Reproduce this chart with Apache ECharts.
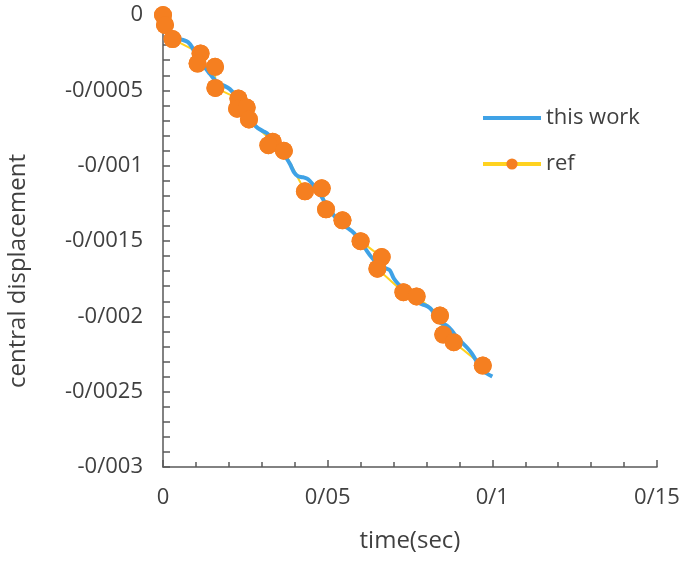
<!DOCTYPE html>
<html>
<head>
<meta charset="utf-8">
<script src="https://cdn.jsdelivr.net/npm/echarts@6/dist/echarts.min.js"></script>
<style>
  html, body { margin: 0; padding: 0; background: #ffffff; }
  #chart { width: 683px; height: 561px; }
</style>
</head>
<body>
<div id="chart"></div>
<script>
// Simulated central displacement (this work): time in seconds, displacement
const thisWorkTime = [
  0, 0.0009, 0.0021, 0.0033, 0.0046, 0.0061, 0.0076, 0.0088, 0.0100, 0.0112,
  0.0128, 0.0143, 0.0158, 0.0173, 0.0188, 0.0203, 0.0216, 0.0228, 0.0243, 0.0258,
  0.0273, 0.0288, 0.0304, 0.0316, 0.0328, 0.0343, 0.0358, 0.0373, 0.0386, 0.0398,
  0.0410, 0.0425, 0.0440, 0.0455, 0.0471, 0.0486, 0.0501, 0.0516, 0.0531, 0.0546,
  0.0562, 0.0574, 0.0586, 0.0601, 0.0616, 0.0631, 0.0647, 0.0662, 0.0677, 0.0689,
  0.0701, 0.0713, 0.0729, 0.0744, 0.0759, 0.0774, 0.0789, 0.0804, 0.0817, 0.0832,
  0.0847, 0.0862, 0.0877, 0.0893, 0.0908, 0.0923, 0.0938, 0.0953, 0.0968, 0.0984,
  0.1000
];
const thisWorkDisp = [
  0, -0.0000465, -0.0000997, -0.000146, -0.000160, -0.000166, -0.000180, -0.000213, -0.000266, -0.000312,
  -0.000352, -0.000392, -0.000432, -0.000459, -0.000472, -0.000492, -0.000525, -0.000572, -0.000625, -0.000678,
  -0.000718, -0.000751, -0.000771, -0.000785, -0.000811, -0.000851, -0.000898, -0.000944, -0.000991, -0.001044,
  -0.001070, -0.001077, -0.001090, -0.001124, -0.001170, -0.001223, -0.001277, -0.001323, -0.001363, -0.001396,
  -0.001416, -0.001436, -0.001463, -0.001509, -0.001556, -0.001602, -0.001642, -0.001669, -0.001682, -0.001695,
  -0.001749, -0.001782, -0.001815, -0.001855, -0.001888, -0.001908, -0.001922, -0.001935, -0.001961, -0.002021,
  -0.002048, -0.002061, -0.002094, -0.002141, -0.002174, -0.002207, -0.002247, -0.002301, -0.002354, -0.002380,
  -0.002400
];

// Reference results
const refTime = [
  0, 0.0006, 0.0029, 0.0114, 0.0105, 0.0158, 0.0159, 0.0229, 0.0225, 0.0254,
  0.0261, 0.0333, 0.0320, 0.0367, 0.0431, 0.0482, 0.0495, 0.0545, 0.0600, 0.0664,
  0.0651, 0.0730, 0.0770, 0.0841, 0.0851, 0.0883, 0.0971
];
const refDisp = [
  0, -0.000066, -0.000160, -0.000255, -0.000322, -0.000344, -0.000484, -0.000555, -0.000622, -0.000614,
  -0.000693, -0.000841, -0.000864, -0.000901, -0.001170, -0.001150, -0.001290, -0.001363, -0.001501, -0.001607,
  -0.001684, -0.001840, -0.001868, -0.001995, -0.002121, -0.002172, -0.002327
];

// Axis tick labels (decimal separator written as "/")
const xTickLabels = ['0', '0/05', '0/1', '0/15'];
const yTickLabels = ['0', '-0/0005', '-0/001', '-0/0015', '-0/002', '-0/0025', '-0/003'];

const xStep = 0.05;
const yStep = 0.0005;

const pair = (xs, ys) => xs.map((x, i) => [x, ys[i]]);
const thisWorkData = pair(thisWorkTime, thisWorkDisp);
const refData = pair(refTime, refDisp);

const BLUE = '#3FA2E6';
const ORANGE = '#F57F20';
const YELLOW = '#FFD21F';
const TEXT = '#404040';
const AXIS = '#595959';
const FONT = '"Open Sans", "Noto Sans", sans-serif';

const chart = echarts.init(document.getElementById('chart'), null, { renderer: 'canvas' });

chart.setOption({
  animation: false,
  backgroundColor: '#ffffff',
  grid: { left: 163, right: 26, top: 15, bottom: 94, containLabel: false },
  legend: {
    orient: 'vertical',
    left: 476,
    top: 102,
    itemWidth: 58,
    itemHeight: 14,
    itemGap: 24,
    data: [
      { name: 'this work', itemStyle: { opacity: 0 }, lineStyle: { width: 4, color: BLUE } },
      { name: 'ref', lineStyle: { width: 4, color: YELLOW } }
    ],
    textStyle: { fontFamily: FONT, fontSize: 22, color: TEXT }
  },
  xAxis: {
    type: 'value',
    min: 0,
    max: 0.15,
    interval: xStep,
    name: 'time(sec)',
    nameLocation: 'middle',
    nameGap: 62,
    nameTextStyle: { fontFamily: FONT, fontSize: 24, color: TEXT },
    axisLine: { show: true, onZero: false, lineStyle: { color: AXIS, width: 1.5 } },
    axisTick: { show: true, inside: true, length: 7, lineStyle: { color: AXIS, width: 1.5 } },
    minorTick: { show: true, splitNumber: 5, length: 5, lineStyle: { color: AXIS, width: 1.5 } },
    splitLine: { show: false },
    axisLabel: {
      margin: 20,
      fontFamily: FONT,
      fontSize: 22,
      color: TEXT,
      formatter: v => xTickLabels[Math.round(v / xStep)]
    }
  },
  yAxis: {
    type: 'value',
    min: -0.003,
    max: 0,
    interval: yStep,
    axisLine: { show: true, onZero: false, lineStyle: { color: AXIS, width: 1.5 } },
    axisTick: { show: true, inside: true, length: 7, lineStyle: { color: AXIS, width: 1.5 } },
    minorTick: { show: true, splitNumber: 5, length: 7, lineStyle: { color: AXIS, width: 1.5 } },
    splitLine: { show: false },
    axisLabel: {
      margin: 20,
      fontFamily: FONT,
      fontSize: 22,
      color: TEXT,
      formatter: v => yTickLabels[Math.round(-v / yStep)]
    }
  },
  graphic: [{
    type: 'text',
    x: 18,
    y: 271,
    rotation: Math.PI / 2,
    style: {
      text: 'central displacement',
      fontFamily: FONT,
      fontSize: 24,
      fill: TEXT,
      align: 'center',
      verticalAlign: 'middle'
    }
  }],
  series: [
    {
      name: 'ref',
      type: 'line',
      z: 1,
      data: refData,
      symbol: 'circle',
      symbolSize: 18,
      itemStyle: { color: ORANGE },
      lineStyle: { color: YELLOW, width: 2 }
    },
    {
      name: 'this work',
      type: 'line',
      z: 2,
      data: thisWorkData,
      smooth: 0.3,
      symbol: 'none',
      itemStyle: { color: BLUE },
      lineStyle: { color: BLUE, width: 4 }
    },
    {
      name: 'ref',
      type: 'scatter',
      z: 3,
      data: refData,
      symbol: 'circle',
      symbolSize: 18,
      itemStyle: { color: ORANGE, opacity: 1 }
    }
  ]
});
</script>
</body>
</html>
